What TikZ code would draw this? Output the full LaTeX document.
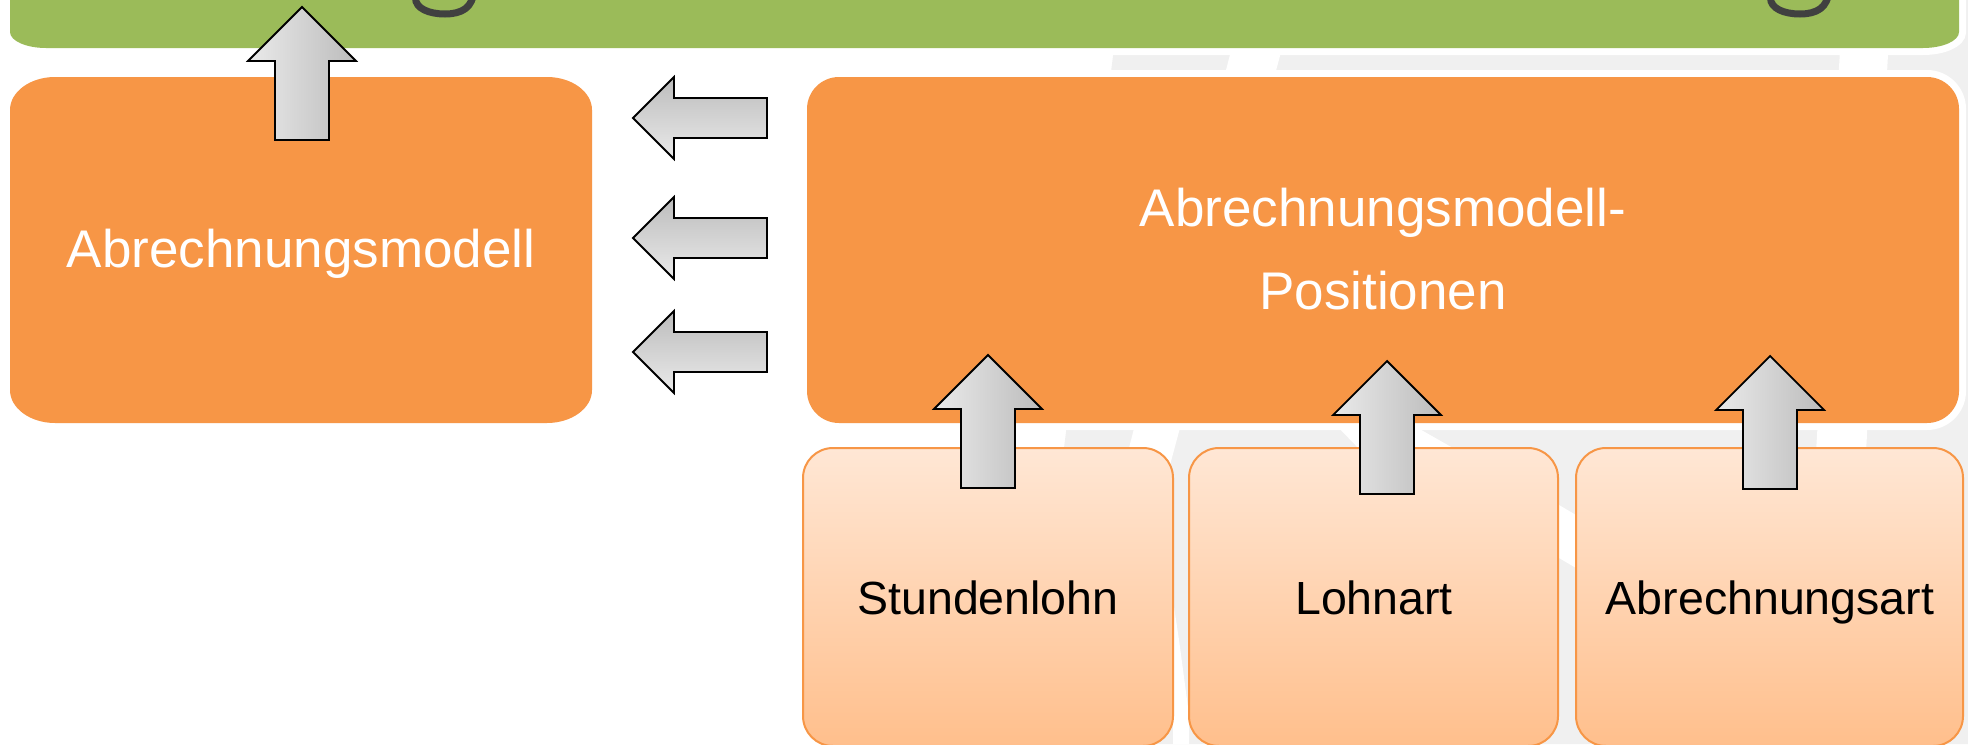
\documentclass[tikz,border=0pt]{standalone}
\usepackage{fontspec}
\setmainfont{Liberation Sans}
\definecolor{barGreen}{HTML}{9BBB59}
\definecolor{boxOrange}{HTML}{F79646}
\definecolor{lowTop}{HTML}{FFE7D5}
\definecolor{lowBot}{HTML}{FFBF8C}
\definecolor{wmGray}{HTML}{F0F0F0}
\definecolor{glyphGray}{HTML}{404040}
\definecolor{arrLight}{HTML}{EAEAEA}
\definecolor{arrDark}{HTML}{BCBCBC}
\newcommand{\UpBlock}[1]{\draw[uparr] (#1) -- ++(54,54) -- ++(-27,0) -- ++(0,79) -- ++(-54,0) -- ++(0,-79) -- ++(-27,0) -- cycle;}
\newcommand{\LeftBlock}[1]{\draw[leftarr] (#1) -- ++(41,-41) -- ++(0,21) -- ++(93,0) -- ++(0,40) -- ++(-93,0) -- ++(0,21) -- cycle;}
\begin{document}
\begin{tikzpicture}[x=0.5pt,y=-0.5pt,
  whiteedge/.style={preaction={draw=white,line width=7pt}},
  lowbox/.style={draw=boxOrange,line width=1pt,rounded corners=15pt,top color=lowTop,bottom color=lowBot,minimum height=149pt,inner sep=0pt,outer sep=0pt},
  bigtxt/.style={text=white,font=\fontsize{26.5pt}{30pt}\selectfont,inner sep=0pt,anchor=base},
  lowtxt/.style={text=black,font=\fontsize{23.25pt}{28pt}\selectfont,inner sep=0pt,anchor=base},
  uparr/.style={draw=black,line width=0.9pt,line join=miter,left color=arrLight,right color=arrDark},
  leftarr/.style={draw=black,line width=0.9pt,line join=miter,top color=arrDark,bottom color=arrLight},
  tail/.style={draw=glyphGray,line width=3.5pt}]
\useasboundingbox (0,0) rectangle (1968,744);
\fill[white] (0,0) rectangle (1968,744);
% faint watermark behind the diagram
\fill[wmGray] (1120,0) -- (1968,0) -- (1968,744) -- (1027,744) -- cycle;
\fill[white] (1244,0) -- (1295,0) -- (1095,744) -- (1053,744) -- cycle;
\fill[white] (1843,0) -- (1891,0) -- (1866,452) -- (1816,452) -- cycle;
\fill[white] (1334,423) -- (1409,423) -- (1460,452) -- (1362,452) -- cycle;
\fill[white] (1559,505) -- (1576,515) -- (1576,568) -- (1559,558) -- cycle;
\fill[white] (1173,600) -- (1179,640) -- (1189,715) -- (1189,744) -- (1173,744) -- cycle;
% green bar (top, cut off)
\fill[barGreen,whiteedge] (10,-40) -- (10,32) .. controls (10,40.8) and (26.1,48) .. (46,48) -- (1923,48) .. controls (1942.9,48) and (1959,40.8) .. (1959,32) -- (1959,-40) -- cycle;
\draw[tail] (415.5,-2) .. controls (415.5,8.5) and (429,14) .. (445,14) .. controls (461,14) and (473.5,8) .. (473.5,-10);
\draw[tail] (1770.5,-2) .. controls (1770.5,8.5) and (1784,14) .. (1800,14) .. controls (1816,14) and (1828.5,8) .. (1828.5,-10);
% left orange box
\fill[boxOrange] (55,77) -- (547,77) .. controls (571.85,77) and (592,91.8) .. (592,110) -- (592,390) .. controls (592,408.2) and (571.85,423) .. (547,423) -- (55,423) .. controls (30.15,423) and (10,408.2) .. (10,390) -- (10,110) .. controls (10,91.8) and (30.15,77) .. (55,77) -- cycle;
\node[bigtxt] (modell) at (301,267) {Abrechnungsmodell};
% right orange box
\fill[boxOrange,whiteedge,rounded corners=16pt] (807,77) rectangle (1959,423);
\node[bigtxt] (pos1) at (1383,226) {Abrechnungsmodell-};
\node[bigtxt] (pos2) at (1383,309) {Positionen};
% lower boxes
\node[lowbox,minimum width=185pt] (b1) at (988,597) {};
\node[lowbox,minimum width=184.5pt] (b2) at (1373.5,597) {};
\node[lowbox,minimum width=193.5pt] (b3) at (1769.5,597) {};
\node[lowtxt] (t1) at (988,614) {Stundenlohn};
\node[lowtxt] (t2) at (1374,614) {Lohnart};
\node[lowtxt] (t3) at (1770,614) {Abrechnungsart};
% block arrows
\coordinate (tipTop) at (302,7);
\coordinate (tipA) at (988,355);
\coordinate (tipB) at (1387,361);
\coordinate (tipC) at (1770,356);
\coordinate (tipL1) at (633,118);
\coordinate (tipL2) at (633,238);
\coordinate (tipL3) at (633,352);
\UpBlock{tipTop}
\UpBlock{tipA}
\UpBlock{tipB}
\UpBlock{tipC}
\LeftBlock{tipL1}
\LeftBlock{tipL2}
\LeftBlock{tipL3}
\end{tikzpicture}
\end{document}
